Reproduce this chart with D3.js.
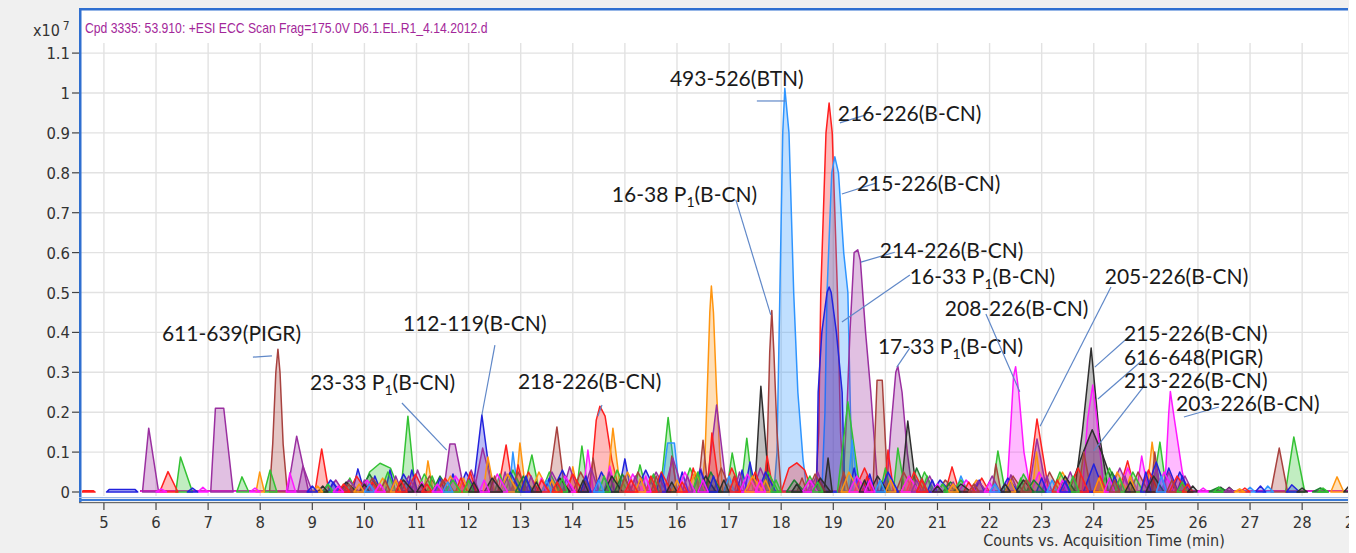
<!DOCTYPE html>
<html><head><meta charset="utf-8">
<script src="https://cdn.jsdelivr.net/npm/d3@7/dist/d3.min.js"></script>
<style>
html,body{margin:0;padding:0;background:#f0f0f0;}
svg{display:block;}
</style></head>
<body>
<svg id="chart" width="1356" height="553"></svg>
<script>
// ---------------- DATA (time in min, counts in x10^7) ----------------
// peak formats: [start, apex, height, end] | [start, apexL, apexR, height, end] | [[t,v],...]
const xTicks = d3.range(5, 30, 1);
const yTicks = [0,0.1,0.2,0.3,0.4,0.5,0.6,0.7,0.8,0.9,1,1.1];
const yTickLabels = ["0","0.1","0.2","0.3","0.4","0.5","0.6","0.7","0.8","0.9","1","1.1"];

const purplePeaks = [
 [5.74,5.86,0.16,6.05],[7.05,7.14,7.30,0.21,7.48],[8.52,8.70,0.14,8.93],[8.72,8.82,0.065,9.0],
 [9.55,9.7,0.03,9.9],[10.9,11.02,0.055,11.18],[11.52,11.64,11.74,0.12,11.92],[12.1,12.27,0.11,12.48],
 [13.8,13.94,0.063,14.1],[15.75,15.92,0.085,16.12],[16.56,16.76,0.218,16.96],
 [[19.18,0],[19.26,0.2],[19.32,0.4],[19.4,0.6],[19.47,0.607],[19.52,0.58],[19.62,0.4],[19.72,0.25],[19.86,0]],
 [[20.02,0],[20.1,0.15],[20.2,0.3],[20.24,0.315],[20.32,0.25],[20.42,0.1],[20.52,0]],
 [21.65,21.78,0.028,21.95],[22.3,22.41,0.043,22.55],[22.75,22.91,0.133,23.1],[25.3,25.44,0.05,25.6]
];
const purpleNoise = [[9.9,10.0,0.03,10.1],[10.5,10.6,0.04,10.72],[12.6,12.7,0.05,12.82],[13.1,13.2,0.04,13.3],
 [14.6,14.7,0.05,14.8],[15.1,15.2,0.04,15.3],[16.1,16.2,0.04,16.3],[17.1,17.2,0.05,17.3],[18.5,18.6,0.03,18.7],
 [20.5,20.6,0.03,20.7],[21.2,21.3,0.025,21.4],[23.0,23.1,0.04,23.2],[24.5,24.6,0.04,24.7],[25.1,25.2,0.06,25.3],[26.5,26.6,0.01,26.7],
 [9.3,9.45,0.03,9.6],[10.7,10.85,0.04,11.0],[11.9,12.05,0.055,12.2],[13.45,13.6,0.05,13.8],[14.2,14.35,0.06,14.5],
 [15.4,15.6,0.05,15.8],[16.3,16.45,0.06,16.6],[17.45,17.6,0.06,17.8],[18.55,18.7,0.05,18.85],[20.7,20.85,0.04,21.0],
 [21.9,22.05,0.04,22.2],[23.4,23.55,0.05,23.7],[24.3,24.5,0.06,24.7],[25.6,25.75,0.04,25.9]];

const redPeaks = [
 [4.56,4.6,4.8,0.003,4.83],[6.07,6.23,0.051,6.42],[9.05,9.18,0.108,9.32],[11.93,12.03,0.05,12.15],
 [12.56,12.72,0.118,12.86],[12.85,12.95,0.068,13.08],
 [[14.33,0],[14.45,0.18],[14.52,0.215],[14.62,0.19],[14.75,0.08],[14.9,0]],
 [16.58,16.67,0.148,16.82],[16.22,16.31,0.06,16.45],[17.65,17.73,0.09,17.85],
 [[18.0,0],[18.15,0.06],[18.3,0.073],[18.45,0.055],[18.6,0]],
 [[18.66,0],[18.72,0.15],[18.76,0.5],[18.86,0.9],[18.92,0.975],[18.98,0.9],[19.08,0.5],[19.14,0.15],[19.2,0]],
 [19.98,20.05,0.105,20.16],[21.15,21.28,0.063,21.42],[22.73,22.91,0.183,23.14],[24.48,24.65,0.078,24.8]
];
const redNoise = [[9.5,9.6,0.02,9.72],[10.05,10.15,0.025,10.28],[10.6,10.7,0.03,10.82],[11.1,11.2,0.02,11.3],
 [11.75,11.85,0.035,11.98],[13.3,13.4,0.03,13.55],[13.6,13.7,0.025,13.8],[15.0,15.12,0.03,15.25],[15.4,15.5,0.04,15.62],
 [16.0,16.1,0.025,16.2],[17.0,17.1,0.035,17.22],[19.55,19.65,0.04,19.75],[20.6,20.7,0.03,20.82],[21.5,21.6,0.025,21.72],
 [23.2,23.3,0.03,23.42],[24.0,24.12,0.04,24.25],[25.7,25.8,0.02,25.9],[26.8,26.9,0.01,27.0],
 [9.7,9.85,0.04,10.05],[10.8,10.98,0.045,11.15],[11.4,11.55,0.035,11.72],[13.0,13.15,0.05,13.35],[13.85,14.0,0.045,14.2],
 [15.55,15.7,0.05,15.9],[16.9,17.05,0.06,17.25],[17.35,17.5,0.05,17.65],[19.4,19.6,0.06,19.8],[20.4,20.55,0.05,20.75],
 [21.7,21.85,0.035,22.0],[23.5,23.7,0.06,23.9],[24.9,25.05,0.055,25.25],[25.45,25.6,0.04,25.8]];

const greenPeaks = [
 [6.38,6.47,0.088,6.7],[7.55,7.65,0.038,7.78],[8.08,8.19,0.055,8.32],
 [[9.95,0],[10.1,0.05],[10.3,0.072],[10.5,0.06],[10.68,0]],
 [10.7,10.835,0.19,10.98],[11.55,11.7,0.03,11.85],[13.05,13.215,0.093,13.36],[14.07,14.175,0.115,14.3],
 [15.17,15.29,0.068,15.42],[15.68,15.83,0.187,16.0],[16.95,17.06,0.098,17.2],[17.22,17.34,0.135,17.46],
 [19.08,19.28,0.226,19.52],[20.15,20.24,0.11,20.38],[22.05,22.16,0.103,22.3],[25.12,25.27,0.125,25.4],
 [27.68,27.84,0.138,28.05]
];
const greenNoise = [[9.2,9.3,0.02,9.4],[9.6,9.72,0.035,9.85],[11.2,11.3,0.04,11.42],[11.9,12.0,0.03,12.1],
 [12.5,12.6,0.045,12.72],[13.7,13.8,0.035,13.9],[14.5,14.6,0.04,14.72],[15.4,15.55,0.045,15.65],[16.3,16.4,0.05,16.5],
 [17.8,17.9,0.03,18.0],[18.6,18.7,0.025,18.8],[19.9,20.0,0.06,20.1],[20.7,20.8,0.04,20.9],[21.0,21.1,0.02,21.2],
 [22.5,22.6,0.035,22.7],[23.5,23.6,0.04,23.72],[24.4,24.5,0.035,24.6],[25.6,25.7,0.025,25.8],[26.3,26.4,0.012,26.5],[28.3,28.4,0.01,28.5],
 [10.3,10.45,0.05,10.6],[11.0,11.15,0.045,11.35],[12.7,12.85,0.055,13.05],[13.4,13.55,0.05,13.75],[14.7,14.85,0.055,15.05],
 [16.1,16.25,0.06,16.45],[17.6,17.75,0.05,17.95],[18.4,18.55,0.04,18.7],[20.6,20.75,0.05,20.95],[21.3,21.45,0.03,21.6],
 [22.5,22.65,0.045,22.85],[23.2,23.35,0.05,23.55],[24.1,24.3,0.06,24.5],[24.6,24.75,0.05,24.95]];

const darkGreenPeaks = [[9.9,10.1,0.045,10.3],[11.3,11.45,0.04,11.65],[12.9,13.05,0.04,13.25],[14.8,14.95,0.045,15.15],
 [16.5,16.65,0.05,16.85],[18.1,18.25,0.03,18.45],[20.45,20.6,0.06,20.8],[21.1,21.25,0.025,21.45],[22.7,22.85,0.03,23.05],
 [24.2,24.35,0.05,24.55],[26.2,26.4,0.012,26.6],[28.2,28.35,0.01,28.5]];

const bluePeaks = [
 [5.05,5.1,5.6,0.006,5.65],[9.77,9.875,0.058,10.0],[10.4,10.49,0.055,10.6],[10.82,10.91,0.055,11.02],
 [12.08,12.255,0.193,12.45],[14.88,15.0,0.083,15.12],[17.3,17.4,0.075,17.52],
 [[18.68,0],[18.71,0.25],[18.78,0.4],[18.88,0.5],[18.92,0.514],[18.96,0.5],[19.06,0.4],[19.17,0.25],[19.22,0]],
 [23.35,23.45,0.028,23.55],[25.3,25.44,0.06,25.62],[27.7,27.8,0.018,27.95]
];
const blueNoise = [[6.6,6.7,0.01,6.8],[8.9,9.0,0.015,9.1],[9.3,9.4,0.025,9.5],[10.1,10.2,0.04,10.32],
 [11.35,11.45,0.035,11.55],[11.6,11.7,0.045,11.82],[13.0,13.1,0.04,13.2],[13.45,13.55,0.035,13.65],[14.15,14.25,0.04,14.35],
 [15.6,15.7,0.045,15.8],[16.0,16.1,0.05,16.22],[16.6,16.7,0.04,16.8],[17.15,17.25,0.055,17.35],[19.3,19.4,0.06,19.5],
 [19.6,19.7,0.045,19.8],[20.8,20.9,0.03,21.0],[21.7,21.8,0.03,21.9],[22.9,23.0,0.035,23.1],[24.3,24.4,0.04,24.5],
 [24.9,25.0,0.05,25.1],[25.6,25.7,0.04,25.8],[27.1,27.2,0.015,27.3],
 [9.2,9.35,0.03,9.55],[10.6,10.75,0.045,10.95],[11.8,11.95,0.05,12.15],[12.6,12.8,0.05,13.0],[13.6,13.8,0.055,14.0],
 [14.4,14.55,0.05,14.75],[15.2,15.4,0.055,15.6],[16.3,16.45,0.055,16.6],[17.55,17.7,0.05,17.9],[19.9,20.05,0.05,20.25],
 [20.9,21.05,0.03,21.25],[22.2,22.35,0.035,22.55],[23.8,24.0,0.07,24.2],[25.0,25.2,0.075,25.4],[25.5,25.65,0.05,25.85]];

const lightBluePeaks = [
 [[17.86,0],[17.92,0.1],[17.94,0.25],[17.975,0.5],[18.03,0.9],[18.07,1.012],[18.15,0.9],[18.24,0.5],[18.32,0.25],[18.42,0.08],[18.5,0]],
 [[18.78,0],[18.84,0.2],[18.88,0.5],[18.97,0.8],[19.03,0.84],[19.1,0.8],[19.2,0.6],[19.28,0.5],[19.33,0.2],[19.38,0]],
 [12.78,12.85,0.1,12.95],[15.7,15.82,15.95,0.123,16.05],[19.28,19.36,0.13,19.48],[21.35,21.45,0.04,21.58],[27.25,27.34,0.015,27.45]
];
const lightBlueNoise = [[10.0,10.1,0.02,10.2],[11.5,11.6,0.025,11.7],[13.4,13.5,0.03,13.6],[14.4,14.5,0.03,14.6],
 [16.9,17.0,0.04,17.1],[19.8,19.9,0.03,20.0],[22.0,22.1,0.02,22.2],[23.1,23.2,0.03,23.3],[25.2,25.3,0.04,25.4],[26.9,27.0,0.012,27.1]];

const orangePeaks = [
 [7.92,7.99,0.05,8.08],[11.14,11.22,0.078,11.32],[12.28,12.37,0.088,12.5],[12.9,12.985,0.123,13.1],
 [13.92,14.0,0.063,14.1],[14.65,14.77,0.16,14.92],
 [[16.48,0],[16.54,0.1],[16.58,0.25],[16.63,0.45],[16.66,0.516],[16.7,0.45],[16.76,0.25],[16.82,0.1],[16.88,0]],
 [22.82,22.9,0.1,23.0],[25.02,25.12,0.125,25.25],[28.55,28.67,0.038,28.8]
];
const orangeNoise = [[9.0,9.1,0.015,9.2],[9.8,9.9,0.02,10.0],[10.5,10.6,0.03,10.7],[11.8,11.9,0.035,12.0],
 [13.5,13.6,0.03,13.7],[15.2,15.3,0.035,15.4],[15.9,16.0,0.03,16.1],[17.6,17.7,0.03,17.8],[20.0,20.1,0.03,20.2],
 [21.2,21.3,0.02,21.4],[22.3,22.4,0.03,22.5],[24.0,24.1,0.035,24.2],[24.6,24.7,0.04,24.8],[26.7,26.8,0.008,26.9],
 [10.2,10.35,0.035,10.5],[11.5,11.65,0.04,11.85],[12.6,12.75,0.045,12.95],[13.2,13.35,0.05,13.55],[14.9,15.05,0.05,15.25],
 [16.2,16.35,0.05,16.55],[17.3,17.45,0.04,17.65],[19.15,19.3,0.05,19.5],[20.3,20.45,0.04,20.65],[21.6,21.75,0.03,21.95],
 [23.2,23.4,0.05,23.6],[24.3,24.45,0.05,24.65]];

const brownPeaks = [
 [[8.18,0],[8.24,0.12],[8.3,0.3],[8.34,0.358],[8.38,0.3],[8.44,0.12],[8.52,0]],
 [13.52,13.695,0.163,13.85],[14.3,14.39,0.085,14.5],[15.82,15.9,0.09,16.0],
 [16.4,16.5,0.13,16.6],
 [[17.7,0],[17.74,0.15],[17.78,0.35],[17.82,0.455],[17.86,0.35],[17.92,0.15],[18.0,0]],
 [19.76,19.84,19.94,0.28,20.05],[22.05,22.12,0.07,22.22],
 [23.7,23.81,0.1,23.95],[25.1,25.17,0.1,25.28],[27.4,27.56,0.11,27.72]
];
const brownNoise = [[9.6,9.7,0.02,9.8],[10.3,10.4,0.03,10.5],[11.4,11.5,0.03,11.6],[12.4,12.5,0.04,12.6],
 [14.9,15.0,0.04,15.1],[15.5,15.6,0.04,15.7],[17.0,17.1,0.04,17.2],[18.3,18.4,0.035,18.5],[19.1,19.2,0.05,19.3],
 [20.6,20.7,0.035,20.8],[21.6,21.7,0.02,21.8],[22.6,22.7,0.03,22.8],[24.3,24.4,0.03,24.5],[25.4,25.5,0.03,25.6],
 [10.0,10.15,0.035,10.35],[11.1,11.25,0.04,11.45],[12.8,12.95,0.05,13.15],[14.0,14.15,0.05,14.35],[15.1,15.25,0.05,15.45],
 [16.7,16.85,0.06,17.05],[18.5,18.65,0.045,18.85],[20.2,20.35,0.05,20.55],[21.0,21.15,0.03,21.35],[22.3,22.45,0.04,22.65],
 [23.0,23.15,0.05,23.35],[24.7,24.85,0.05,25.05]];

const blackPeaks = [
 [17.49,17.61,0.265,17.78],[18.82,18.9,0.085,18.98],[20.3,20.43,0.178,20.6],
 [[23.63,0],[23.78,0.15],[23.95,0.361],[24.1,0.15],[24.28,0]],
 [[23.52,0],[23.8,0.1],[23.97,0.156],[24.15,0.1],[24.42,0]],
 [26.3,26.44,0.012,26.55],[28.8,28.9,0.015,29.0]
];
const blackNoise = [[9.1,9.2,0.015,9.3],[9.9,10.0,0.02,10.1],[11.0,11.1,0.02,11.2],[12.0,12.1,0.025,12.2],
 [13.2,13.3,0.025,13.4],[14.1,14.2,0.03,14.3],[15.8,15.9,0.025,16.0],[16.8,16.9,0.03,17.0],[18.2,18.3,0.02,18.4],
 [19.5,19.6,0.03,19.7],[20.9,21.0,0.015,21.1],[22.2,22.3,0.02,22.4],[24.6,24.7,0.025,24.8],[25.8,25.9,0.015,26.0],
 [26.5,26.6,0.012,26.7],[27.9,28.0,0.01,28.1],
 [9.5,9.65,0.025,9.85],[10.6,10.75,0.03,10.95],[12.3,12.45,0.035,12.65],[13.6,13.75,0.035,13.95],[14.6,14.75,0.04,14.95],
 [16.4,16.55,0.04,16.75],[18.6,18.75,0.035,18.95],[19.7,19.85,0.04,20.05],[21.3,21.45,0.02,21.65],[22.5,22.65,0.03,22.85],
 [23.3,23.45,0.04,23.65],[25.0,25.15,0.04,25.35]];

const magentaPeaks = [
 [6.8,6.9,0.012,7.0],[8.5,8.57,0.048,8.68],[11.3,11.4,0.02,11.5],[14.2,14.29,0.105,14.4],[14.6,14.71,0.065,14.82],
 [[22.33,0],[22.4,0.15],[22.46,0.29],[22.5,0.314],[22.56,0.25],[22.66,0.1],[22.79,0]],
 [[23.78,0],[23.88,0.18],[23.98,0.268],[24.06,0.18],[24.2,0]],
 [24.82,24.92,0.09,25.05],
 [[25.36,0],[25.44,0.2],[25.47,0.252],[25.55,0.18],[25.7,0.05],[25.79,0]]
];
const magentaNoise = [[6.0,6.1,0.008,6.2],[7.8,7.9,0.01,8.0],[9.4,9.5,0.015,9.6],[10.2,10.3,0.02,10.4],
 [11.0,11.1,0.025,11.2],[12.2,12.3,0.03,12.4],[13.3,13.4,0.035,13.5],[15.3,15.4,0.04,15.5],[16.4,16.5,0.03,16.6],
 [17.5,17.6,0.03,17.7],[19.6,19.7,0.03,19.8],[20.9,21.0,0.02,21.1],[21.9,22.0,0.025,22.1],[23.3,23.4,0.03,23.5],
 [24.2,24.3,0.035,24.4],[26.0,26.1,0.01,26.2],
 [9.9,10.05,0.03,10.2],[11.6,11.75,0.04,11.95],[12.4,12.55,0.045,12.75],[13.7,13.85,0.04,14.05],[15.0,15.15,0.045,15.35],
 [16.0,16.15,0.05,16.35],[17.2,17.35,0.045,17.55],[18.4,18.55,0.03,18.7],[19.3,19.45,0.04,19.65],[20.3,20.45,0.04,20.65],
 [21.4,21.55,0.03,21.75],[22.8,22.95,0.05,23.15],[24.5,24.65,0.06,24.85],[25.2,25.35,0.05,25.55]];

// annotations: text parts, text anchor (t, v), leader from (t,v) to (t,v)
const annotations = [
 {parts:["493-526(BTN)"], at:[15.864,1.018], line:[[17.533,0.98],[18.09,0.98]]},
 {parts:["216-226(B-CN)"], at:[19.088,0.930], line:[[19.127,0.925],[19.626,0.945]]},
 {parts:["215-226(B-CN)"], at:[19.453,0.754], line:[[19.165,0.747],[19.818,0.774]]},
 {parts:["16-38 P","1","(B-CN)"], at:[14.75,0.727], line:[[17.13,0.732],[17.80,0.444]]},
 {parts:["214-226(B-CN)"], at:[19.894,0.586], line:[[19.53,0.576],[20.18,0.601]]},
 {parts:["16-33 P","1","(B-CN)"], at:[20.47,0.521], line:[[19.165,0.426],[20.47,0.544]]},
 {parts:["17-33 P","1","(B-CN)"], at:[19.856,0.346], line:[[20.22,0.313],[20.47,0.361]]},
 {parts:["208-226(B-CN)"], at:[21.14,0.441], line:[[21.93,0.446],[22.58,0.251]]},
 {parts:["205-226(B-CN)"], at:[24.21,0.521], line:[[24.33,0.514],[22.97,0.165]]},
 {parts:["215-226(B-CN)"], at:[24.58,0.378], line:[[24.69,0.391],[24.02,0.313]]},
 {parts:["616-648(PIGR)"], at:[24.58,0.318], line:[[24.94,0.331],[24.08,0.233]]},
 {parts:["213-226(B-CN)"], at:[24.58,0.261], line:[[24.98,0.268],[24.0,0.103]]},
 {parts:["203-226(B-CN)"], at:[25.58,0.203], line:[[26.40,0.213],[25.73,0.188]]},
 {parts:["611-639(PIGR)"], at:[6.113,0.378], line:[[7.86,0.338],[8.225,0.341]]},
 {parts:["112-119(B-CN)"], at:[10.74,0.404], line:[[12.505,0.368],[12.255,0.193]]},
 {parts:["23-33 P","1","(B-CN)"], at:[8.954,0.256], line:[[10.72,0.223],[11.58,0.105]]},
 {parts:["218-226(B-CN)"], at:[12.946,0.258], line:[[14.56,0.218],[14.48,0.19]]}
];

const titleText = "Cpd 3335: 53.910: +ESI ECC Scan Frag=175.0V D6.1.EL.R1_4.14.2012.d";
const xAxisTitle = "Counts vs. Acquisition Time (min)";

// ---------------- STYLES ----------------
const colors = {purple:"#9a2fa0", red:"#ff1f1f", green:"#33c233", darkGreen:"#1f7f33", blue:"#2222dd", lightBlue:"#2f95ff",
  orange:"#ff9510", brown:"#a8423f", black:"#2e2e2e", magenta:"#ff19ff"};
const series = [
 {c:"black", p:blackPeaks.concat(blackNoise)},
 {c:"darkGreen", p:darkGreenPeaks},
 {c:"brown", p:brownPeaks.concat(brownNoise)},
 {c:"orange", p:orangePeaks.concat(orangeNoise)},
 {c:"green", p:greenPeaks.concat(greenNoise)},
 {c:"lightBlue", p:lightBluePeaks.concat(lightBlueNoise)},
 {c:"purple", p:purplePeaks.concat(purpleNoise)},
 {c:"blue", p:bluePeaks.concat(blueNoise)},
 {c:"red", p:redPeaks.concat(redNoise)},
 {c:"magenta", p:magentaPeaks.concat(magentaNoise)}
];

// ---------------- LAYOUT ----------------
const L = 81, R = 1348, T = 10, B0 = 492;
const x = d3.scaleLinear().domain([4.56, 28.88]).range([L, R]);
const y = d3.scaleLinear().domain([0, 1.1]).range([B0, B0 - 1.1*399]);
const narrow = "'DejaVu Sans Condensed','Liberation Sans',sans-serif";

const svg = d3.select("#chart");
svg.append("rect").attr("width",1356).attr("height",553).attr("fill","#f0f0f0");
svg.append("rect").attr("x",L).attr("y",T).attr("width",R-L).attr("height",497-T).attr("fill","#fff");

// grid
const grid = svg.append("g").attr("stroke","#e2e2e2").attr("stroke-width",1.4);
grid.selectAll("line.v").data(xTicks.filter(t=>x(t)<R)).join("line")
  .attr("x1",d=>x(d)).attr("x2",d=>x(d)).attr("y1",43).attr("y2",496);
grid.selectAll("line.h").data(yTicks.slice(1)).join("line")
  .attr("x1",L).attr("x2",R).attr("y1",d=>y(d)).attr("y2",d=>y(d));

// title (slightly tall, narrow look)
svg.append("text").attr("transform","translate(85,33) scale(1,1.18)").attr("fill","#a3279a")
  .style("font-family","'Liberation Sans',Arial,sans-serif").style("font-size","12.2px").text(titleText);

// peaks
function pts(p){
  if (Array.isArray(p[0])) return p;
  if (p.length===5) return [[p[0],0],[p[1],p[3]],[p[2],p[3]],[p[4],0]];
  return [[p[0],0],[p[1],p[2]],[p[3],0]];
}
const clip = svg.append("defs").append("clipPath").attr("id","pc");
clip.append("rect").attr("x",L+1).attr("y",T).attr("width",R-L-1).attr("height",B0-T+1);
const gPeaks = svg.append("g").attr("clip-path","url(#pc)");
const line = d3.line().x(d=>x(d[0])).y(d=>y(d[1]));

series.forEach(s=>{
  gPeaks.append("line").attr("x1",x(5.7)).attr("x2",x(29)).attr("y1",y(0.002)).attr("y2",y(0.002))
    .attr("stroke",colors[s.c]).attr("stroke-width",1.5);
});
let all = [];
series.forEach(s=>s.p.forEach(p=>{ const q=pts(p); all.push({c:s.c, q, h:d3.max(q,d=>d[1])}); }));
all.sort((a,b)=>b.h-a.h);
gPeaks.selectAll("path.pk").data(all).join("path")
  .attr("d",d=>line(d.q)+"Z")
  .attr("fill",d=>colors[d.c]).attr("fill-opacity",0.3)
  .attr("stroke",d=>colors[d.c]).attr("stroke-width",1.5).attr("stroke-linejoin","round");

// frame
svg.append("rect").attr("x",L-2).attr("y",8).attr("width",R-L+2).attr("height",2.5).attr("fill","#2f6fd0");
svg.append("rect").attr("x",L-2).attr("y",8).attr("width",2.5).attr("height",494).attr("fill","#2f6fd0");
svg.append("rect").attr("x",L-2).attr("y",497).attr("width",R-L+2).attr("height",1).attr("fill","#9fbbe6");
svg.append("rect").attr("x",L-2).attr("y",499).attr("width",R-L+2).attr("height",2).attr("fill","#3b7ad6");
svg.append("rect").attr("x",L-2).attr("y",502).attr("width",R-L+2).attr("height",1.2).attr("fill","#6a6a6a");

// x axis
const ax = svg.append("g");
ax.selectAll("line").data(xTicks).join("line")
  .attr("x1",d=>x(d)).attr("x2",d=>x(d)).attr("y1",503).attr("y2",510).attr("stroke","#444").attr("stroke-width",1.2);
ax.selectAll("text").data(xTicks).join("text")
  .attr("x",d=>x(d)).attr("y",528).attr("text-anchor","middle").attr("fill","#333")
  .style("font-family",narrow).style("font-size","16.5px").text(d=>d);
// y axis
const ay = svg.append("g");
ay.selectAll("line").data(yTicks).join("line")
  .attr("x1",72).attr("x2",79).attr("y1",d=>y(d)).attr("y2",d=>y(d)).attr("stroke","#444").attr("stroke-width",1.2);
ay.selectAll("text").data(yTicks).join("text")
  .attr("x",70).attr("y",d=>y(d)+6).attr("text-anchor","end").attr("fill","#333")
  .style("font-family",narrow).style("font-size","16.5px").text((d,i)=>yTickLabels[i]);
const xt = svg.append("text").attr("x",33).attr("y",36).attr("fill","#333")
  .style("font-family",narrow).style("font-size","16px");
xt.append("tspan").text("x10");
xt.append("tspan").attr("dx",3).attr("dy",-6).style("font-size","12px").text("7");

svg.append("text").attr("x",1104).attr("y",546).attr("text-anchor","middle").attr("fill","#333")
  .style("font-family",narrow).style("font-size","16px").text(xAxisTitle);

// annotations
const ga = svg.append("g");
annotations.forEach(a=>{
  ga.append("line").attr("x1",x(a.line[0][0])).attr("y1",y(a.line[0][1]))
    .attr("x2",x(a.line[1][0])).attr("y2",y(a.line[1][1]))
    .attr("stroke","#6088c8").attr("stroke-width",1.2);
  const t = ga.append("text").attr("x",x(a.at[0])).attr("y",y(a.at[1])).attr("fill","#1a1a1a")
    .style("font-family","Lato,'Open Sans',sans-serif").style("font-size","21px");
  t.append("tspan").text(a.parts[0]);
  if (a.parts.length>1){
    t.append("tspan").attr("dy",5).style("font-size","14px").text(a.parts[1]);
    t.append("tspan").attr("dy",-5).text(a.parts[2]);
  }
});
svg.append("rect").attr("x",1349).attr("y",0).attr("width",7).attr("height",553).attr("fill","#fff");
</script>
</body></html>
